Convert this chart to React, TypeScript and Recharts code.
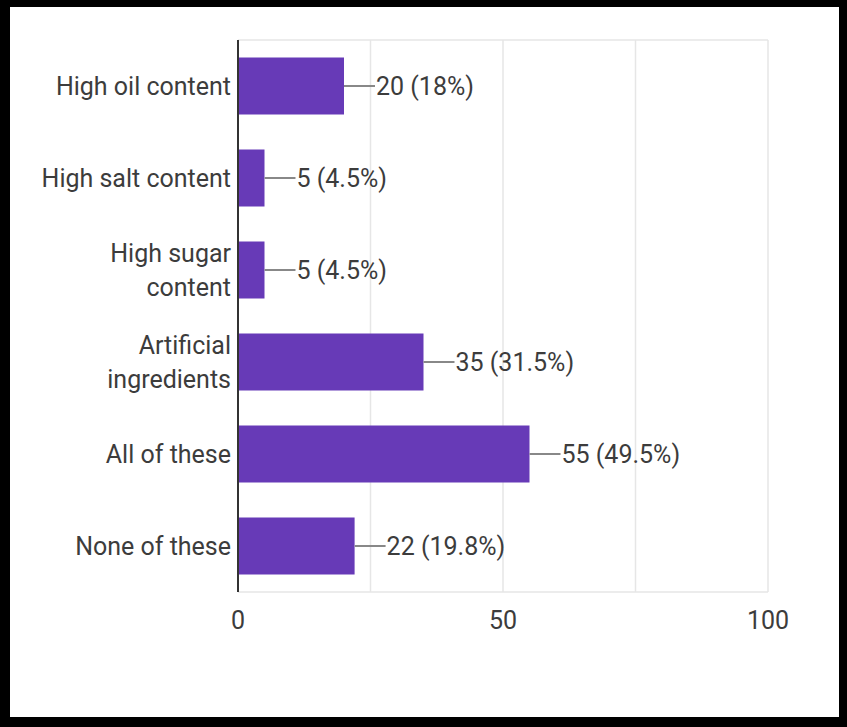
import React from "react";
import { BarChart, Bar, XAxis, YAxis, CartesianGrid, LabelList } from "recharts";

const categories = [
  "High oil content",
  "High salt content",
  "High sugar content",
  "Artificial ingredients",
  "All of these",
  "None of these",
];
const categoryLines: string[][] = [
  ["High oil content"],
  ["High salt content"],
  ["High sugar", "content"],
  ["Artificial", "ingredients"],
  ["All of these"],
  ["None of these"],
];
const counts = [20, 5, 5, 35, 55, 22];
const percents = ["18%", "4.5%", "4.5%", "31.5%", "49.5%", "19.8%"];
const xTicks = [0, 25, 50, 75, 100];
const xTickLabels = ["0", "", "50", "", "100"];

const data = categories.map((c, i) => ({
  name: c,
  value: counts[i],
  label: `${counts[i]} (${percents[i]})`,
}));

const FONT = "Roboto, 'Noto Sans', sans-serif";
const TEXT = "#3c3c3c";
const FS = 25;

const YTick = (props: any) => {
  const { x, y, payload } = props;
  const idx = categories.indexOf(payload.value);
  const lines = idx >= 0 ? categoryLines[idx] : [String(payload.value)];
  const lh = 34;
  const start = -((lines.length - 1) * lh) / 2;
  return (
    <g>
      {lines.map((l, i) => (
        <text
          key={i}
          x={x}
          y={y + start + i * lh}
          dy={9}
          textAnchor="end"
          fill={TEXT}
          fontSize={FS}
          fontFamily={FONT}
        >
          {l}
        </text>
      ))}
    </g>
  );
};

const XTick = (props: any) => {
  const { x, y, payload } = props;
  const i = xTicks.indexOf(payload.value);
  const t = i >= 0 ? xTickLabels[i] : "";
  if (!t) return null;
  return (
    <text x={x} y={y} dy={29} textAnchor="middle" fill={TEXT} fontSize={FS} fontFamily={FONT}>
      {t}
    </text>
  );
};

const ValueLabel = (props: any) => {
  const { x, y, width, height, index } = props;
  const cy = y + height / 2;
  const x0 = x + width;
  return (
    <g>
      <line x1={x0} y1={cy} x2={x0 + 31} y2={cy} stroke="#888888" strokeWidth={2} />
      <text x={x0 + 32} y={cy} dy={9} fill={TEXT} fontSize={FS} fontFamily={FONT}>
        {data[index].label}
      </text>
    </g>
  );
};

export default function App() {
  return (
    <div
      style={{
        position: "absolute",
        left: 0,
        top: 0,
        width: 847,
        height: 727,
        background: "#000",
      }}
    >
      <div
        style={{
          position: "absolute",
          left: 10,
          top: 7,
          width: 829,
          height: 710,
          background: "#fff",
        }}
      />
      <div style={{ position: "absolute", left: 0, top: 0 }}>
        <BarChart
          width={847}
          height={727}
          data={data}
          layout="vertical"
          margin={{ top: 40, right: 79, bottom: 95, left: 10 }}
          barCategoryGap="19%"
        >
          <CartesianGrid
            stroke="#e6e6e6"
            strokeWidth={1.5}
            vertical={true}
            horizontal={true}
            horizontalCoordinatesGenerator={({ offset }: any) => [
              offset.top,
              offset.top + offset.height,
            ]}
          />
          <XAxis
            type="number"
            domain={[0, 100]}
            ticks={xTicks}
            tick={<XTick />}
            tickLine={false}
            axisLine={false}
            height={40}
            interval={0}
          />
          <YAxis
            type="category"
            dataKey="name"
            width={228}
            tick={<YTick />}
            tickLine={false}
            axisLine={{ stroke: "#333333", strokeWidth: 2 }}
            tickMargin={1}
            interval={0}
          />
          <Bar dataKey="value" fill="#673ab7" isAnimationActive={false}>
            <LabelList dataKey="value" content={<ValueLabel />} />
          </Bar>
        </BarChart>
      </div>
    </div>
  );
}
